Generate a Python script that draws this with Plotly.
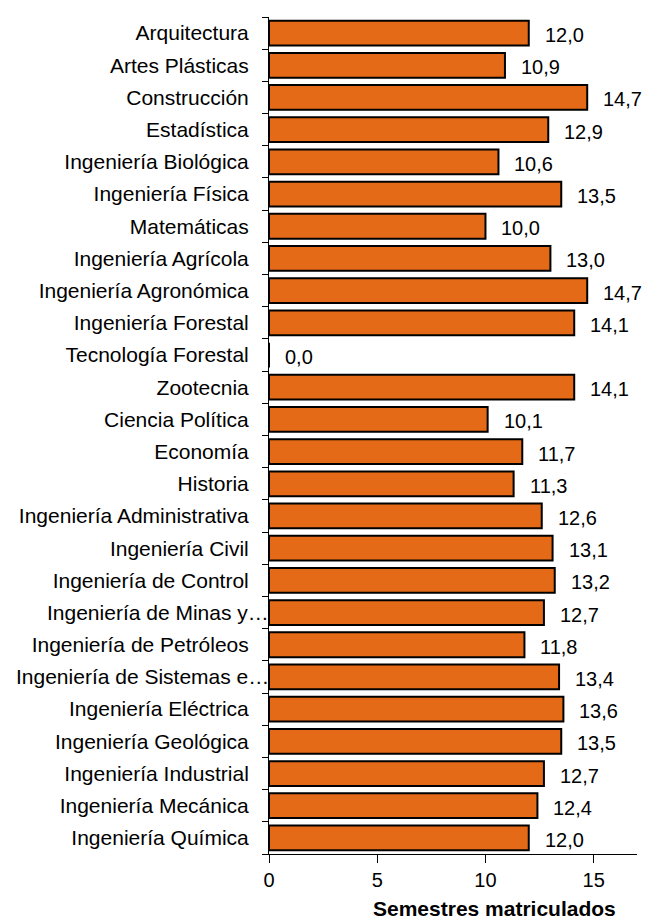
import plotly.graph_objects as go

categories = [
    "Arquitectura", "Artes Plásticas", "Construcción", "Estadística",
    "Ingeniería Biológica", "Ingeniería Física", "Matemáticas",
    "Ingeniería Agrícola", "Ingeniería Agronómica", "Ingeniería Forestal",
    "Tecnología Forestal", "Zootecnia", "Ciencia Política", "Economía",
    "Historia", "Ingeniería Administrativa", "Ingeniería Civil",
    "Ingeniería de Control", "Ingeniería de Minas y…", "Ingeniería de Petróleos",
    "Ingeniería de Sistemas e…", "Ingeniería Eléctrica", "Ingeniería Geológica",
    "Ingeniería Industrial", "Ingeniería Mecánica", "Ingeniería Química",
]
values = [12.0, 10.9, 14.7, 12.9, 10.6, 13.5, 10.0, 13.0, 14.7, 14.1, 0.0,
          14.1, 10.1, 11.7, 11.3, 12.6, 13.1, 13.2, 12.7, 11.8, 13.4, 13.6,
          13.5, 12.7, 12.4, 12.0]
x_ticks = [0, 5, 10, 15]
x_title = "Semestres matriculados"

FONT = "Liberation Sans, Arial, sans-serif"

fig = go.Figure(go.Bar(
    x=values, y=categories, orientation="h",
    marker=dict(color="#E46A17", line=dict(color="#000000", width=2)),
    width=0.77,
    hoverinfo="skip",
))

annotations = []
# value labels
for c, v in zip(categories, values):
    annotations.append(dict(
        x=v, y=c, xref="x", yref="y", text=f"{v:.1f}".replace(".", ","),
        showarrow=False, xanchor="left", yanchor="middle", xshift=14, yshift=-2,
        font=dict(family=FONT, size=20, color="#000000"),
    ))
# category labels (truncated ones overflow toward the axis, as in the original)
ticktext = []
for c in categories:
    truncated = c.endswith("…")
    ticktext.append("" if truncated else c)
    if truncated:
        annotations.append(dict(
            x=0, y=c, xref="paper", yref="y", text=c, showarrow=False,
            xanchor="right", yanchor="middle", xshift=2,
            font=dict(family=FONT, size=21, color="#000000"),
        ))
annotations.append(dict(
    x=0.613, y=0, xref="paper", yref="paper", text=f"<b>{x_title}</b>",
    showarrow=False, xanchor="center", yanchor="top", yshift=-41,
    font=dict(family=FONT, size=21, color="#000000"),
))

fig.update_layout(
    width=647, height=919,
    margin=dict(l=269, r=10, t=17, b=65),
    paper_bgcolor="white", plot_bgcolor="white",
    showlegend=False,
    font=dict(family=FONT, size=20, color="#000000"),
    annotations=annotations,
    xaxis=dict(
        range=[0, 17], tickvals=x_ticks, ticktext=[str(t) for t in x_ticks],
        showgrid=False, zeroline=False, showline=True, linecolor="#000000",
        linewidth=1, ticks="outside", ticklen=8, tickcolor="#000000",
        tickfont=dict(size=20), fixedrange=True, automargin=False,
    ),
    yaxis=dict(
        autorange="reversed", showgrid=False, zeroline=False, showline=True,
        linecolor="#000000", linewidth=1, ticks="outside", ticklen=6,
        tickcolor="#000000", tickson="boundaries", ticklabelstandoff=15,
        tickmode="array", tickvals=categories, ticktext=ticktext,
        tickfont=dict(size=21), fixedrange=True, automargin=False,
    ),
)

fig.write_html(
    "out.html",
    config={"displayModeBar": False},
    post_script="document.body.style.margin='0';document.body.style.overflow='hidden';",
)
